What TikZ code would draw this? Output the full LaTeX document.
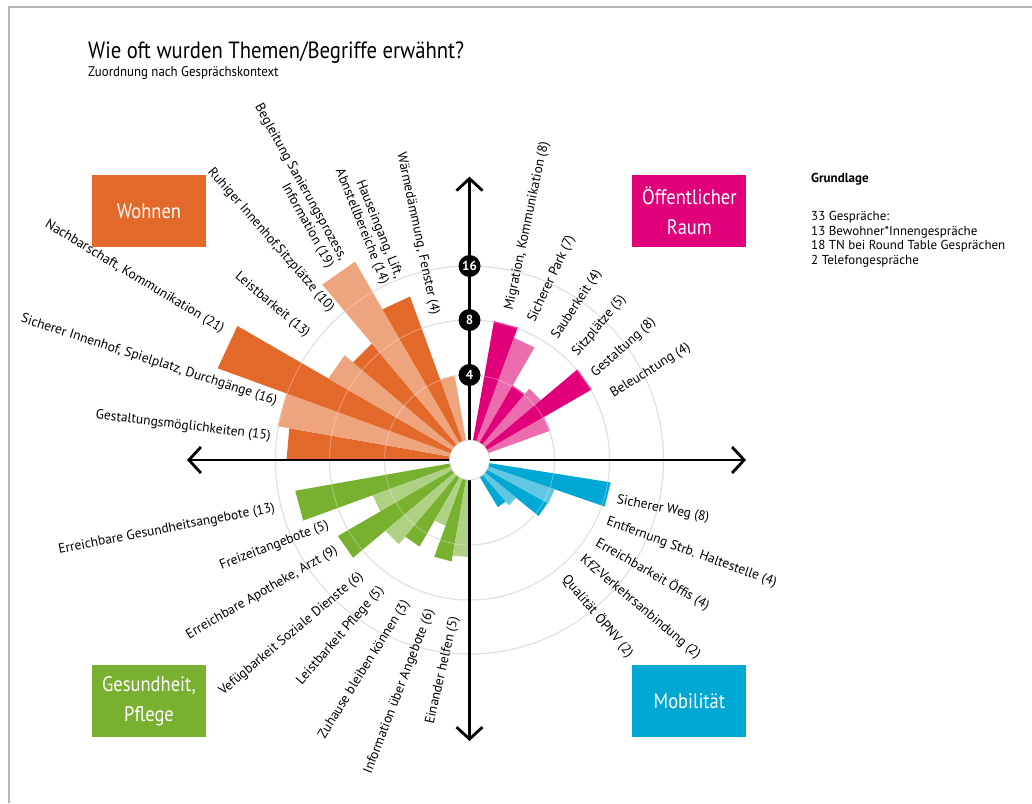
\documentclass[tikz,border=0pt]{standalone}
\usepackage{fontspec}
\setmainfont{PT Sans}
\newfontfamily\condf[FakeStretch=0.88]{PT Sans}
\newfontfamily\subf[FakeStretch=0.92]{PT Sans}
\usetikzlibrary{arrows.meta}
\definecolor{orD}{HTML}{E3692B}
\definecolor{orL}{HTML}{EEA47D}
\definecolor{maD}{HTML}{E2007A}
\definecolor{maL}{HTML}{EC6DAE}
\definecolor{grD}{HTML}{77B12F}
\definecolor{grL}{HTML}{AFD184}
\definecolor{cyD}{HTML}{00A8D3}
\definecolor{cyL}{HTML}{62C7E3}
\definecolor{framec}{HTML}{B4B4B4}
\definecolor{gridc}{HTML}{D2D2D2}
\newcommand{\wedgebar}[4]{\fill[#1] (0,0) -- (#2:#4) -- (#3:#4) -- cycle;}
\begin{document}
\begin{tikzpicture}[x=1pt,y=-1pt,
  lbl/.style={inner sep=0pt, font=\fontsize{13.5}{15}\selectfont},
  catbox/.style={minimum width=114pt, minimum height=72pt, inner sep=0pt, text=white, align=center, font=\condf\fontsize{21}{30}\selectfont},
  marker/.style={circle, fill=black, text=white, minimum size=22pt, inner sep=0pt, font=\bfseries\fontsize{13}{13}\selectfont},
  axisline/.style={line width=2.8pt, {Straight Barb[length=12pt,width=26pt]}-{Straight Barb[length=12pt,width=26pt]}},
  gridline/.style={gridc, line width=1pt},
  gridover/.style={white, opacity=0.35, line width=0.8pt}]
\useasboundingbox (0,0) rectangle (1032,803);
\fill[white] (0,0) rectangle (1032,803);
\draw[framec, line width=2pt] (9,803) -- (9,7) -- (1032,7);

\node[anchor=base west, inner sep=0pt] (title) at (88,58) {\condf\fontsize{23.5}{27}\selectfont Wie oft wurden Themen/Begriffe erwähnt?};
\node[anchor=base west, inner sep=0pt] (subtitle) at (88,76) {\subf\fontsize{14}{16}\selectfont Zuordnung nach Gesprächskontext};

\begin{scope}[shift={(469.5,460)}, yscale=-1]
  \foreach \r in {85,140,194} \draw[gridline] (0,0) circle[radius=\r];
  % Wohnen
  \wedgebar{orD}{170}{180}{183}
  \wedgebar{orL}{160}{170}{195}
  \wedgebar{orD}{150}{160}{268}
  \wedgebar{orL}{140}{150}{163}
  \wedgebar{orD}{130}{140}{152}
  \wedgebar{orL}{120}{130}{229}
  \wedgebar{orD}{110}{120}{174}
  \wedgebar{orL}{100}{110}{86}
  % Oeffentlicher Raum
  \wedgebar{maD}{70}{80}{141}
  \wedgebar{maL}{60}{70}{130}
  \wedgebar{maD}{50}{60}{86}
  \wedgebar{maL}{40}{50}{93}
  \wedgebar{maD}{30}{40}{141}
  \wedgebar{maL}{20}{30}{86}
  % Mobilitaet
  \wedgebar{cyD}{-19}{-9}{143}
  \wedgebar{cyL}{-29}{-19}{90}
  \wedgebar{cyD}{-39}{-29}{89}
  \wedgebar{cyL}{-49}{-39}{60}
  \wedgebar{cyD}{-59}{-49}{55}
  % Gesundheit
  \wedgebar{grD}{190}{200}{177}
  \wedgebar{grL}{200}{210}{103}
  \wedgebar{grD}{210}{220}{152}
  \wedgebar{grL}{220}{230}{110}
  \wedgebar{grD}{230}{240}{100}
  \wedgebar{grL}{240}{250}{70}
  \wedgebar{grD}{250}{260}{103}
  \wedgebar{grL}{260}{270}{97}
  \foreach \r in {85,140,194} \draw[gridover] (0,0) circle[radius=\r];
  \coordinate (axL) at (-282.5,0);
  \coordinate (axR) at (276.5,0);
  \coordinate (axT) at (0,283.3);
  \coordinate (axB) at (0,-281);
  \draw[axisline] (axL) -- (axR);
  \draw[axisline] (axB) -- (axT);
  \node[circle, fill=white, draw=black!20, line width=0.6pt, minimum size=40pt, inner sep=0pt] (hub) at (0,0) {};
  \node[marker] (m4) at (0,85) {4};
  \node[marker] (m8) at (0,140) {8};
  \node[marker] (m16) at (0,194) {16};
\end{scope}

% category boxes
\node[catbox, fill=orD] (wohnen) at (149,211) {Wohnen};
\node[catbox, fill=maD] (raum) at (689.4,211) {Öffentlicher\\Raum};
\node[catbox, fill=grD] (gesund) at (149,701) {Gesundheit,\\Pflege};
\node[catbox, fill=cyD] (mobil) at (689.4,701) {Mobilität};

% Wohnen labels
\node[lbl, anchor=east, rotate=-7] (l1) at (270.7,436.7) {Gestaltungsmöglichkeiten (15)};
\node[lbl, anchor=east, rotate=-18] (l2) at (276.7,401.7) {Sicherer Innenhof, Spielplatz, Durchgänge (16)};
\node[lbl, anchor=east, rotate=-31] (l3) at (223,330) {Nachbarschaft, Kommunikation (21)};
\node[lbl, anchor=east, rotate=-40] (l4) at (308,335) {Leistbarkeit (13)};
\node[lbl, anchor=east, rotate=-49] (l5) at (331.7,310) {Ruhiger Innenhof,Sitzplätze (10)};
\node[lbl, anchor=east, rotate=-61, align=right] (l6) at (336.7,263.3) {Begleitung Sanierungsprozess,\\Information (19)};
\node[lbl, anchor=east, rotate=-68, align=right] (l7) at (391.7,280.8) {Hauseingang, Lift,\\Abnstellbereiche (14)};
\node[lbl, anchor=east, rotate=-78] (l8) at (435,315) {Wärmedämmung, Fenster (4)};

% Oeffentlicher Raum labels
\node[lbl, anchor=west, rotate=78] (r1) at (509.3,310) {Migration, Kommunikation (8)};
\node[lbl, anchor=west, rotate=65] (r2) at (531.7,321.7) {Sicherer Park (7)};
\node[lbl, anchor=west, rotate=57] (r3) at (555,338.3) {Sauberkeit (4)};
\node[lbl, anchor=west, rotate=50] (r4) at (575,355) {Sitzplätze (5)};
\node[lbl, anchor=west, rotate=42] (r5) at (593.3,375) {Gestaltung (8)};
\node[lbl, anchor=west, rotate=32] (r6) at (611.7,395) {Beleuchtung (4)};

% Mobilitaet labels
\node[lbl, anchor=west, rotate=-11] (c1) at (616.7,500) {Sicherer Weg (8)};
\node[lbl, anchor=west, rotate=-20] (c2) at (606.7,521.7) {Entfernung Strb. Haltestelle (4)};
\node[lbl, anchor=west, rotate=-30] (c3) at (596.7,541.7) {Erreichbarkeit Öffis (4)};
\node[lbl, anchor=west, rotate=-40] (c4) at (581.7,558.3) {KfZ-Verkehrsanbindung (2)};
\node[lbl, anchor=west, rotate=-50] (c5) at (565,576.7) {Qualität ÖPNV (2)};

% Gesundheit labels
\node[lbl, anchor=east, rotate=11] (g1) at (275,508.3) {Erreichbare Gesundheitsangebote (13)};
\node[lbl, anchor=east, rotate=21] (g2) at (328.3,525) {Freizeitangebote (5)};
\node[lbl, anchor=east, rotate=30] (g3) at (336.7,550) {Erreichbare Apotheke, Arzt (9)};
\node[lbl, anchor=east, rotate=40] (g4) at (361.7,575) {Vefügbarkeit Soziale Dienste (6)};
\node[lbl, anchor=east, rotate=49] (g5) at (381.7,588.3) {Leistbarkeit Pflege (5)};
\node[lbl, anchor=east, rotate=58] (g6) at (406.7,601.7) {Zuhause bleiben können (3)};
\node[lbl, anchor=east, rotate=69] (g7) at (430.7,610) {Information über Angebote (6)};
\node[lbl, anchor=east, rotate=77] (g8) at (455,616.7) {Einander helfen (5)};

% Grundlage
\node[anchor=base west, inner sep=0pt, font=\bfseries\fontsize{13}{15}\selectfont] (grund) at (811,182) {Grundlage};
\node[anchor=north west, inner sep=0pt, align=left, font=\fontsize{13}{14.6}\selectfont] (info) at (811,211) {33 Gespräche:\\13 Bewohner*Innengespräche\\18 TN bei Round Table Gesprächen\\2 Telefongespräche};
\end{tikzpicture}
\end{document}
